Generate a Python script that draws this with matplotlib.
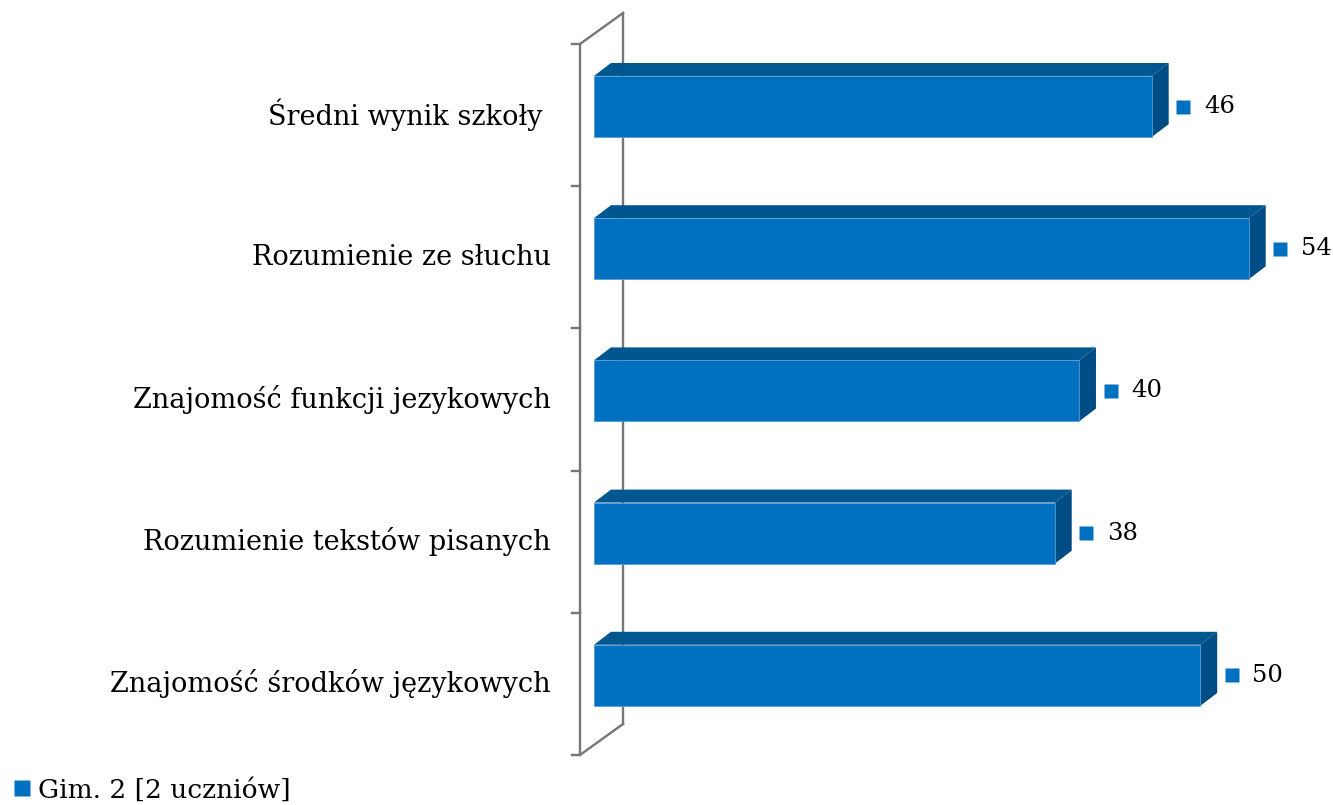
import numpy as np
import matplotlib
matplotlib.use("Agg")
import matplotlib.pyplot as plt
from matplotlib.patches import Polygon
from matplotlib.lines import Line2D

plt.rcParams['font.family'] = ['DejaVu Serif']

categories = [
    "Średni wynik szkoły ",
    "Rozumienie ze słuchu",
    "Znajomość funkcji jezykowych",
    "Rozumienie tekstów pisanych",
    "Znajomość środków językowych",
]
values = [46, 54, 40, 38, 50]
series_name = "Gim. 2 [2 uczniów]"

c_front = "#0070C0"
c_top = "#00568F"
c_side = "#004C84"
c_wall = "#767676"

fig = plt.figure(figsize=(13.33, 8.05), dpi=100)
ax = fig.add_axes([0, 0, 1, 1])
ax.set_xlim(-48.99, 60.95)
ax.set_ylim(4.912, -0.749)
ax.axis("off")

# depth of the bars and of the back wall, in data units
bar_h = 0.43
bdx, bdy = 1.4, -0.091
wdx, wdy = 3.55, -0.218

# wall / category axis
y0, y1 = -0.44, 4.56
wx = -1.15
ax.plot([wx, wx], [y0, y1], color=c_wall, lw=1.7, solid_capstyle="butt")
ax.plot([wx + wdx, wx + wdx], [y0 + wdy, y1 + wdy], color=c_wall, lw=1.7)
ax.plot([wx, wx + wdx], [y0, y0 + wdy], color=c_wall, lw=1.7)
ax.plot([wx, wx + wdx], [y1, y1 + wdy], color=c_wall, lw=1.7)
for t in np.linspace(y0, y1, len(categories) + 1):
    ax.plot([wx - 0.66, wx], [t, t], color=c_wall, lw=1.7)

for k, (cat, v) in enumerate(zip(categories, values)):
    top, bot = k - bar_h / 2, k + bar_h / 2
    ax.add_patch(Polygon([(0, top), (v, top), (v + bdx, top + bdy), (bdx, top + bdy)],
                         closed=True, facecolor=c_top, edgecolor="none", zorder=3))
    ax.add_patch(Polygon([(v, top), (v + bdx, top + bdy), (v + bdx, bot + bdy), (v, bot)],
                         closed=True, facecolor=c_side, edgecolor="none", zorder=3))
    ax.barh(k, v, height=bar_h, left=0, color=c_front, edgecolor="#5B9BD5",
            linewidth=0.6, zorder=4)
    # value label with series key
    ax.plot(v + 2.6, k, marker="s", ms=10.5, color=c_front, mec="none", zorder=5)
    ax.text(v + 4.3, k, str(v), ha="left", va="center", fontsize=17.5, color="black")
    ax.text(-3.55, k + 0.06, cat, ha="right", va="center", fontsize=19.5, color="black")

handle = Line2D([], [], marker="s", ms=11, color=c_front, lw=0, mec="none")
fig.legend([handle], [series_name], loc="lower left", bbox_to_anchor=(-0.003, -0.02),
           frameon=False, fontsize=19, handlelength=0.6, handletextpad=0.3,
           borderpad=0.2)

fig.savefig("out.png", dpi=100)
